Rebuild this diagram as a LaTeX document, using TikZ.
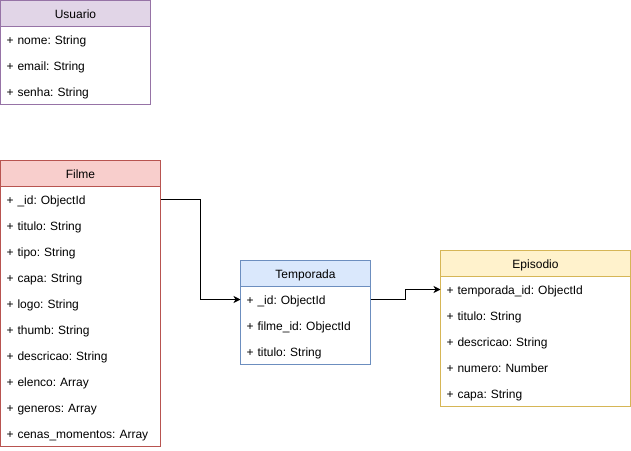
\documentclass[tikz,border=0pt]{standalone}
\usepackage{fontspec}
\setmainfont{Liberation Sans}
\usetikzlibrary{arrows.meta}
\frenchspacing

\definecolor{purplefill}{HTML}{E1D5E7}\definecolor{purpleline}{HTML}{9673A6}
\definecolor{redfill}{HTML}{F8CECC}\definecolor{redline}{HTML}{B85450}
\definecolor{bluefill}{HTML}{DAE8FC}\definecolor{blueline}{HTML}{6C8EBF}
\definecolor{yellowfill}{HTML}{FFF2CC}\definecolor{yellowline}{HTML}{D6B656}

% #1 name, #2 x, #3 y, #4 width, #5 fill, #6 line colour, #7 title, #8 rows
\newcommand\umlclass[8]{%
  \node[hdr, fill=#5, draw=#6, minimum width=#4] (#1) at (#2,#3) {#7};
  \pgfmathsetmacro\umltw{#4-12}
  \foreach \r [count=\i] in {#8} {
    \node[rowcell, minimum width=#4, text width=\umltw pt] (#1-\i) at (#2,{#3+26*\i}) {\r};
    \xdef\umllast{\i}
  }
  \draw[draw=#6] (#1.south west) rectangle (#1-\umllast.south east);
}

\begin{document}
\begin{tikzpicture}[x=1pt,y=-1pt,line width=1pt,
  every node/.style={font=\fontsize{12}{14}\selectfont\frenchspacing, inner sep=0pt, outer sep=0pt,
    text height=11pt, text depth=2pt},
  hdr/.style={minimum height=26pt, anchor=north west, line width=1pt},
  rowcell/.style={minimum height=26pt, anchor=north west, align=left, inner xsep=6pt},
  conn/.style={draw=black, line width=1pt, -{Stealth[length=7pt,width=7pt,inset=2pt]}}]
\useasboundingbox (0,0) rectangle (631,450);

\umlclass{Usuario}{0.5}{0.5}{150}{purplefill}{purpleline}{Usuario}
  {+ nome: String, + email: String, + senha: String}

\umlclass{Filme}{0.5}{160.5}{160}{redfill}{redline}{Filme}
  {+ \_id: ObjectId, + titulo: String, + tipo: String, + capa: String,
   + logo: String, + thumb: String, + descricao: String, + elenco: Array,
   + generos: Array, + cenas\_momentos: Array}

\umlclass{Temporada}{240.5}{260.5}{130}{bluefill}{blueline}{Temporada}
  {+ \_id: ObjectId, + filme\_id: ObjectId, + titulo: String}

\umlclass{Episodio}{440.5}{250.5}{190}{yellowfill}{yellowline}{Episodio}
  {+ temporada\_id: ObjectId, + titulo: String, + descricao: String,
   + numero: Number, + capa: String}

% foreign-key links
\draw[conn] (Filme-1.east) -- ++(40,0) |- (Temporada-1.west);
\draw[conn] (Temporada-1.east) -- ++(35,0) |- (Episodio-1.west);
\end{tikzpicture}
\end{document}
